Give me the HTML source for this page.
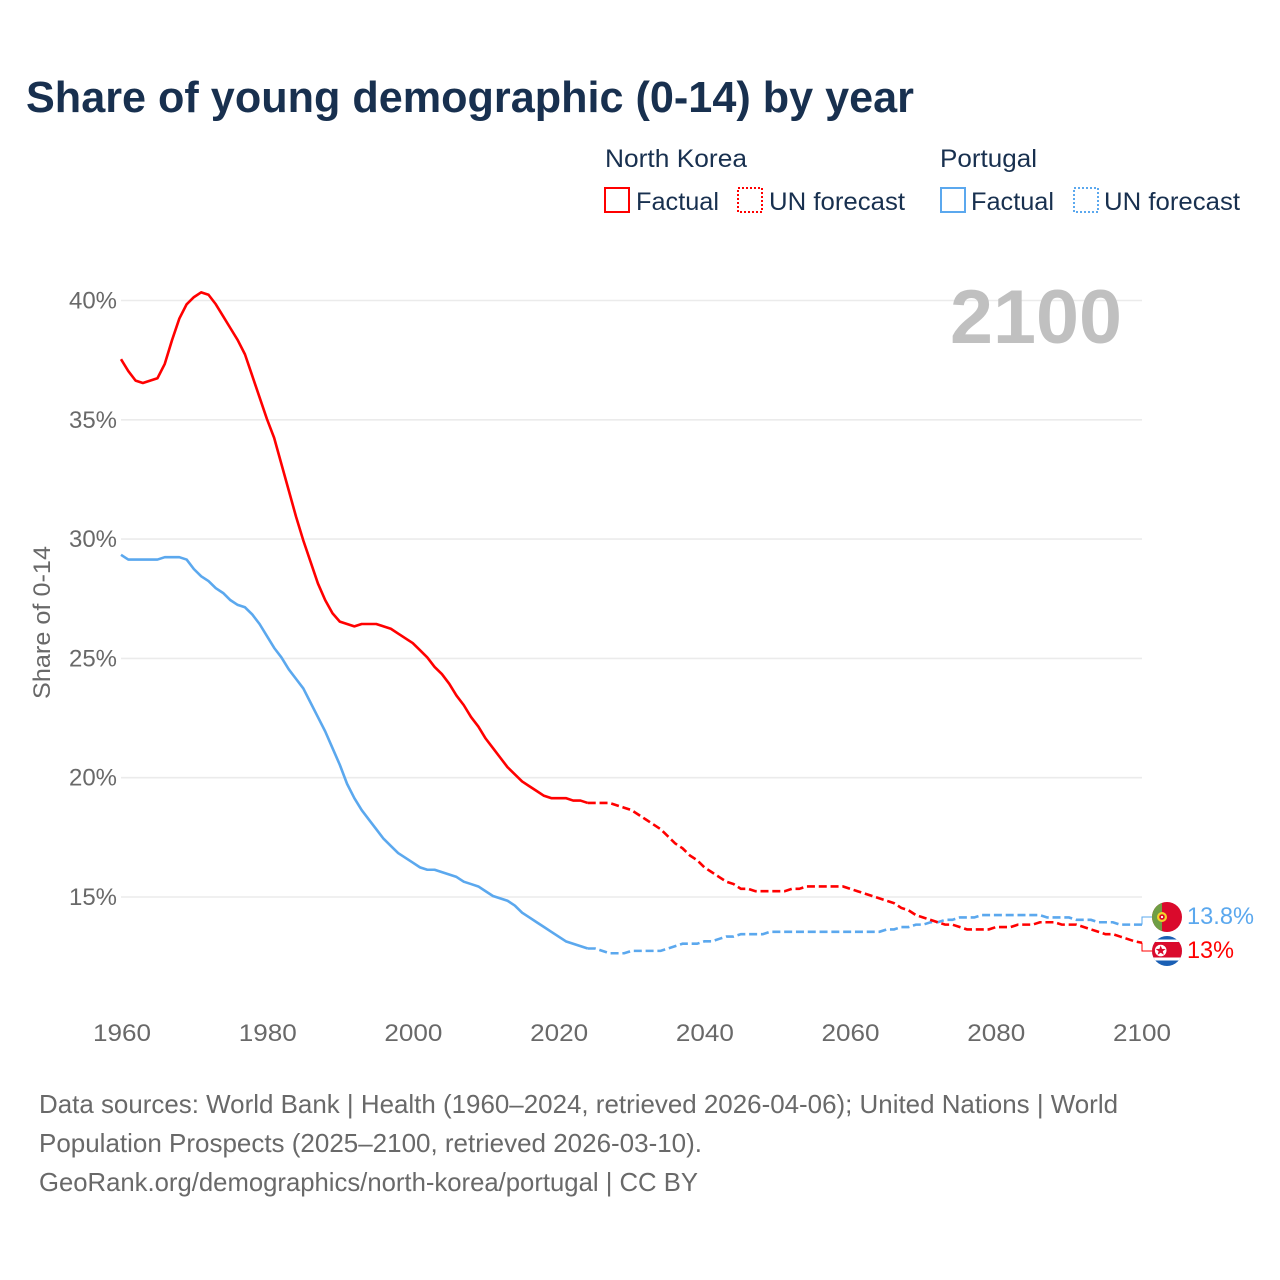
<!DOCTYPE html>
<html lang="en">
<head>
<meta charset="utf-8">
<title>Share of young demographic (0-14) by year</title>
<style>
html,body{margin:0;padding:0;background:#fff}
svg{display:block;font-family:"Liberation Sans",sans-serif}
</style>
</head>
<body>
<svg id="chart" width="1280" height="1280" viewBox="0 0 1280 1280">
<defs>
<clipPath id="clip-pt"><circle cx="1167" cy="917" r="15"/></clipPath>
<clipPath id="clip-kp"><circle cx="1167" cy="951" r="15"/></clipPath>
</defs>
<rect width="1280" height="1280" fill="#fff"/>
<text x="26" y="112" font-size="44" font-weight="700" fill="#18304f" textLength="888" lengthAdjust="spacingAndGlyphs">Share of young demographic (0-14) by year</text>

<g font-size="25" fill="#18304f">
<text x="605" y="167" textLength="142" lengthAdjust="spacingAndGlyphs">North Korea</text>
<rect x="605" y="188" width="24" height="24" fill="none" stroke="#ff0000" stroke-width="2"/>
<text x="636" y="210" textLength="83" lengthAdjust="spacingAndGlyphs">Factual</text>
<rect x="738" y="188" width="24" height="24" fill="none" stroke="#ff0000" stroke-width="2" stroke-dasharray="2 2"/>
<text x="769" y="210" textLength="136" lengthAdjust="spacingAndGlyphs">UN forecast</text>
<text x="940" y="167" textLength="97" lengthAdjust="spacingAndGlyphs">Portugal</text>
<rect x="941" y="188" width="24" height="24" fill="none" stroke="#5ba8ee" stroke-width="2"/>
<text x="971" y="210" textLength="83" lengthAdjust="spacingAndGlyphs">Factual</text>
<rect x="1074" y="188" width="24" height="24" fill="none" stroke="#5ba8ee" stroke-width="2" stroke-dasharray="2 2"/>
<text x="1104" y="210" textLength="136" lengthAdjust="spacingAndGlyphs">UN forecast</text>
</g>

<g id="grid"></g>
<g id="yticks"></g>
<g id="xticks"></g>

<text x="950" y="343" font-size="76" font-weight="700" fill="#c0c0c0" textLength="172" lengthAdjust="spacingAndGlyphs">2100</text>
<text transform="translate(50,699) rotate(-90)" font-size="24" fill="#696969" textLength="153" lengthAdjust="spacingAndGlyphs">Share of 0-14</text>

<g id="series"></g>
<g id="connectors"></g>

<g clip-path="url(#clip-pt)">
<rect x="1152" y="902" width="30" height="30" fill="#da0a2c"/>
<rect x="1152" y="902" width="10" height="30" fill="#6f9e45"/>
<circle cx="1162" cy="917" r="5" fill="#f5d328"/>
<circle cx="1162" cy="917" r="2.8" fill="#da0a2c"/>
<circle cx="1162" cy="917" r="1.1" fill="#fff"/>
</g>
<g clip-path="url(#clip-kp)">
<rect x="1152" y="936" width="30" height="30" fill="#1a5fb4"/>
<rect x="1152" y="939.5" width="30" height="21" fill="#fff"/>
<rect x="1152" y="942" width="30" height="15.5" fill="#da0a2c"/>
<circle cx="1160.7" cy="950.5" r="5.8" fill="#fff"/>
<polygon points="1160.7,945.5 1162,948.9 1165.7,949 1162.8,951.3 1163.8,954.8 1160.7,952.8 1157.6,954.8 1158.6,951.3 1155.7,949 1159.4,948.9" fill="#da0a2c"/>
</g>
<text id="label-pt" x="1187" y="924" font-size="24" fill="#5ba8ee" textLength="67" lengthAdjust="spacingAndGlyphs"></text>
<text id="label-kp" x="1187" y="958" font-size="24" fill="#ff0000" textLength="47" lengthAdjust="spacingAndGlyphs"></text>

<g font-size="26" fill="#696969">
<text x="39" y="1113" textLength="1079" lengthAdjust="spacingAndGlyphs">Data sources: World Bank | Health (1960–2024, retrieved 2026-04-06); United Nations | World</text>
<text x="39" y="1152" textLength="663" lengthAdjust="spacingAndGlyphs">Population Prospects (2025–2100, retrieved 2026-03-10).</text>
<text x="39" y="1191" textLength="659" lengthAdjust="spacingAndGlyphs">GeoRank.org/demographics/north-korea/portugal | CC BY</text>
</g>
</svg>
<script>
const firstYear = 1960;
const lastFactualYear = 2024;
const xTickLabels = [1960, 1980, 2000, 2020, 2040, 2060, 2080, 2100];
const yTickLabels = [15, 20, 25, 30, 35, 40];
const northKorea = [
37.5,37.0,36.6,36.5,36.6,36.7,37.3,38.3,39.2,39.8,
40.1,40.3,40.2,39.8,39.3,38.8,38.3,37.7,36.8,35.9,
35.0,34.2,33.1,32.0,30.9,29.9,29.0,28.1,27.4,26.85,
26.5,26.4,26.3,26.4,26.4,26.4,26.3,26.2,26.0,25.8,
25.6,25.3,25.0,24.6,24.3,23.9,23.4,23.0,22.5,22.1,
21.6,21.2,20.8,20.4,20.1,19.8,19.6,19.4,19.2,19.1,
19.1,19.1,19.0,19.0,18.9,18.9,18.9,18.9,18.8,18.7,
18.6,18.4,18.2,18.0,17.8,17.5,17.2,17.0,16.7,16.5,
16.2,16.0,15.8,15.6,15.5,15.3,15.3,15.2,15.2,15.2,
15.2,15.2,15.3,15.3,15.4,15.4,15.4,15.4,15.4,15.4,
15.3,15.2,15.1,15.0,14.9,14.8,14.7,14.5,14.4,14.2,
14.1,14.0,13.9,13.8,13.8,13.7,13.6,13.6,13.6,13.6,
13.7,13.7,13.7,13.8,13.8,13.8,13.9,13.9,13.9,13.8,
13.8,13.8,13.7,13.6,13.5,13.4,13.4,13.3,13.2,13.1,
13.04];
const portugal = [
29.3,29.1,29.1,29.1,29.1,29.1,29.2,29.2,29.2,29.1,
28.7,28.4,28.2,27.9,27.7,27.4,27.2,27.1,26.8,26.4,
25.9,25.4,25.0,24.5,24.1,23.7,23.1,22.5,21.9,21.2,
20.5,19.7,19.1,18.6,18.2,17.8,17.4,17.1,16.8,16.6,
16.4,16.2,16.1,16.1,16.0,15.9,15.8,15.6,15.5,15.4,
15.2,15.0,14.9,14.8,14.6,14.3,14.1,13.9,13.7,13.5,
13.3,13.1,13.0,12.9,12.8,12.8,12.7,12.6,12.6,12.6,
12.7,12.7,12.7,12.7,12.7,12.8,12.9,13.0,13.0,13.0,
13.1,13.1,13.2,13.3,13.3,13.4,13.4,13.4,13.4,13.5,
13.5,13.5,13.5,13.5,13.5,13.5,13.5,13.5,13.5,13.5,
13.5,13.5,13.5,13.5,13.5,13.6,13.6,13.7,13.7,13.8,
13.8,13.9,13.9,14.0,14.0,14.1,14.1,14.1,14.2,14.2,
14.2,14.2,14.2,14.2,14.2,14.2,14.2,14.1,14.1,14.1,
14.1,14.0,14.0,14.0,13.9,13.9,13.9,13.8,13.8,13.8,
13.8];

const svgNS = 'http://www.w3.org/2000/svg';
function xScale(year) { return 121 + (year - 1960) * (1142 - 121) / 140; }
function xTickScale(year) { return 122 + (year - 1960) * (1142 - 122) / 140; }
function yScale(value) { return 300.5 + (40 - value) * 23.86; }
function lineY(value) { return yScale(value) - 1; }
function linePath(values, startIndex, endIndex) {
  const parts = [];
  for (let i = startIndex; i <= endIndex; i++) {
    parts.push((i === startIndex ? 'M' : 'L') + xScale(firstYear + i).toFixed(2) + ' ' + lineY(values[i]).toFixed(2));
  }
  return parts.join('');
}
const gridGroup = document.getElementById('grid');
const yGroup = document.getElementById('yticks');
const xGroup = document.getElementById('xticks');
const seriesGroup = document.getElementById('series');
const connGroup = document.getElementById('connectors');

yTickLabels.forEach(function (v) {
  const line = document.createElementNS(svgNS, 'line');
  
  
  line.setAttribute('x1', 121);
  line.setAttribute('x2', 1142);
  line.setAttribute('y1', yScale(v));
  line.setAttribute('y2', yScale(v));
  line.setAttribute('stroke', '#ebebeb');
  line.setAttribute('stroke-width', 1.6);
  gridGroup.appendChild(line);
  const t = document.createElementNS(svgNS, 'text');
  
  
  t.setAttribute('x', 117);
  t.setAttribute('y', yScale(v) + 8);
  t.setAttribute('text-anchor', 'end');
  t.setAttribute('font-size', 24);
  t.setAttribute('fill', '#696969');
  t.setAttribute('textLength', 48);
  t.setAttribute('lengthAdjust', 'spacingAndGlyphs');
  t.textContent = v + '%';
  yGroup.appendChild(t);
});
xTickLabels.forEach(function (year) {
  const t = document.createElementNS(svgNS, 'text');
  
  
  t.setAttribute('x', xTickScale(year));
  t.setAttribute('y', 1041);
  t.setAttribute('text-anchor', 'middle');
  t.setAttribute('font-size', 24);
  t.setAttribute('fill', '#696969');
  t.setAttribute('textLength', 58);
  t.setAttribute('lengthAdjust', 'spacingAndGlyphs');
  t.textContent = year;
  xGroup.appendChild(t);
});
function drawSeries(values, color, key) {
  const split = lastFactualYear - firstYear;
  const solid = document.createElementNS(svgNS, 'path');
  
  
  solid.setAttribute('d', linePath(values, 0, split));
  solid.setAttribute('fill', 'none');
  solid.setAttribute('stroke', color);
  solid.setAttribute('stroke-width', 2.6);
  solid.setAttribute('stroke-linejoin', 'round');
  seriesGroup.appendChild(solid);
  const dashed = document.createElementNS(svgNS, 'path');
  
  
  dashed.setAttribute('d', linePath(values, split, values.length - 1));
  dashed.setAttribute('fill', 'none');
  dashed.setAttribute('stroke', color);
  dashed.setAttribute('stroke-width', 2.6);
  dashed.setAttribute('stroke-dasharray', '8 3.8');
  seriesGroup.appendChild(dashed);
}
function drawConnector(values, color, flagY, key) {
  const endY = lineY(values[values.length - 1]);
  const c = document.createElementNS(svgNS, 'path');
  
  
  c.setAttribute('d', 'M1142 ' + endY.toFixed(1) + 'L1142 ' + flagY + 'L1152 ' + flagY);
  c.setAttribute('fill', 'none');
  c.setAttribute('stroke', color);
  c.setAttribute('stroke-width', 1);
  connGroup.appendChild(c);
}
drawSeries(portugal, '#5ba8ee', 'portugal');
drawSeries(northKorea, '#ff0000', 'north-korea');
drawConnector(portugal, '#5ba8ee', 917, 'portugal');
drawConnector(northKorea, '#ff0000', 951, 'north-korea');
function endLabel(values) { return parseFloat(values[values.length - 1].toFixed(1)) + '%'; }
document.getElementById('label-pt').textContent = endLabel(portugal);
document.getElementById('label-kp').textContent = endLabel(northKorea);
</script>
</body>
</html>
